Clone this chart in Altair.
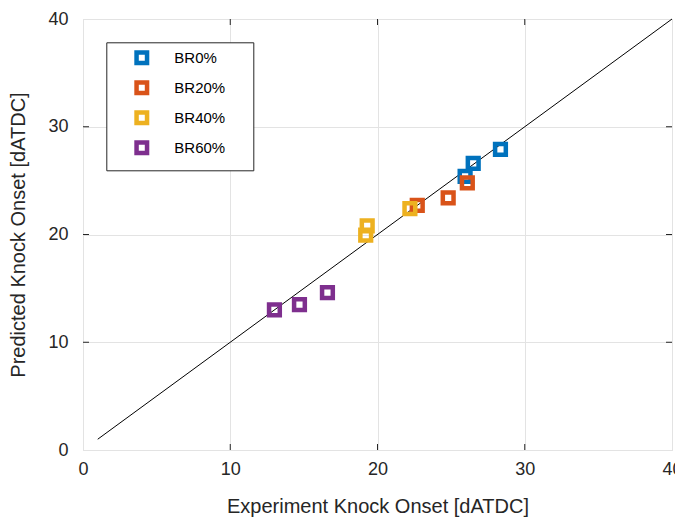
import altair as alt
import pandas as pd

series = ["BR0%", "BR20%", "BR40%", "BR60%"]
colors = ["#0072BD", "#D95319", "#EDB120", "#7E2F8E"]

exp_br0 = [28.35, 26.5, 25.95]
pred_br0 = [27.9, 26.6, 25.4]
exp_br20 = [26.1, 24.8, 22.7]
pred_br20 = [24.8, 23.4, 22.7]
exp_br40 = [22.2, 19.3, 19.2]
pred_br40 = [22.4, 20.8, 19.95]
exp_br60 = [16.6, 14.7, 13.0]
pred_br60 = [14.6, 13.5, 13.0]

line_x = [1, 40]
line_y = [1, 40]
ticks = [10, 20, 30]

rows = []
for name, xs_, ys_ in zip(series,
                          [exp_br0, exp_br20, exp_br40, exp_br60],
                          [pred_br0, pred_br20, pred_br40, pred_br60]):
    for a, b in zip(xs_, ys_):
        rows.append({"exp": a, "pred": b, "series": name})
df = pd.DataFrame(rows)
line_df = pd.DataFrame({"exp": line_x, "pred": line_y})
tick_df = pd.DataFrame({"t": ticks})

W, H = 589, 431
font = "Liberation Sans"
txt = "#262626"
xs = alt.Scale(domain=[0, 40], nice=False)
ys = alt.Scale(domain=[0, 40], nice=False)

x_axis = alt.Axis(values=[0, 10, 20, 30, 40], ticks=False, domain=False, grid=True,
                  title="Experiment Knock Onset [dATDC]", labelPadding=10,
                  titlePadding=18, labelFontSize=18, titleFontSize=20,
                  labelFlush=False, labelOverlap=False,
                  labelFont=font, titleFont=font, labelColor=txt,
                  titleColor=txt, titleFontWeight="normal", gridColor="#e3e3e3")
y_axis = alt.Axis(values=[0, 10, 20, 30, 40], ticks=False, domain=False, grid=True,
                  title="Predicted Knock Onset [dATDC]", labelPadding=15,
                  titlePadding=19, labelFontSize=18, titleFontSize=20,
                  labelFlush=False, labelOverlap=False,
                  labelFont=font, titleFont=font, labelColor=txt,
                  titleColor=txt, titleFontWeight="normal", gridColor="#e3e3e3")

base_line = alt.Chart(line_df).mark_line(color="black", strokeWidth=1).encode(
    x=alt.X("exp:Q", scale=xs, axis=x_axis),
    y=alt.Y("pred:Q", scale=ys, axis=y_axis),
)

points = alt.Chart(df).mark_point(shape="square", filled=False, size=115,
                                  strokeWidth=4.5, opacity=1).encode(
    x=alt.X("exp:Q", scale=xs),
    y=alt.Y("pred:Q", scale=ys),
    color=alt.Color("series:N", scale=alt.Scale(domain=series, range=colors),
                    sort=series,
                    legend=alt.Legend(title="xxx", titleOrient="right", titleOpacity=0,
                                      titleFontSize=10, titlePadding=3,
                                      orient="none", legendX=23.3, legendY=23.3,
                                      padding=8, symbolOffset=20, labelOffset=25,
                                      rowPadding=1, symbolSize=110, symbolStrokeWidth=4.5,
                                      symbolType="square", labelFont=font, labelFontSize=15,
                                      labelColor="black", strokeColor=txt,
                                      fillColor="white")),
)

tick_bottom = alt.Chart(tick_df).mark_rule(color=txt, strokeWidth=1).encode(
    x=alt.X("t:Q", scale=xs), y=alt.value(H), y2=alt.value(H - 6))
tick_top = alt.Chart(tick_df).mark_rule(color=txt, strokeWidth=1).encode(
    x=alt.X("t:Q", scale=xs), y=alt.value(0), y2=alt.value(6))
tick_left = alt.Chart(tick_df).mark_rule(color=txt, strokeWidth=1).encode(
    y=alt.Y("t:Q", scale=ys), x=alt.value(0), x2=alt.value(6))
tick_right = alt.Chart(tick_df).mark_rule(color=txt, strokeWidth=1).encode(
    y=alt.Y("t:Q", scale=ys), x=alt.value(W), x2=alt.value(W - 6))

chart = alt.layer(base_line, tick_bottom, tick_top, tick_left, tick_right, points).properties(
    width=W, height=H,
    autosize=alt.AutoSizeParams(type="none"),
    padding={"left": 75, "top": 11, "right": 3, "bottom": 67},
).configure_view(stroke=txt, strokeWidth=1.5).configure(background="white")

chart.save("out.html", embed_options={"renderer": "svg", "actions": False})
